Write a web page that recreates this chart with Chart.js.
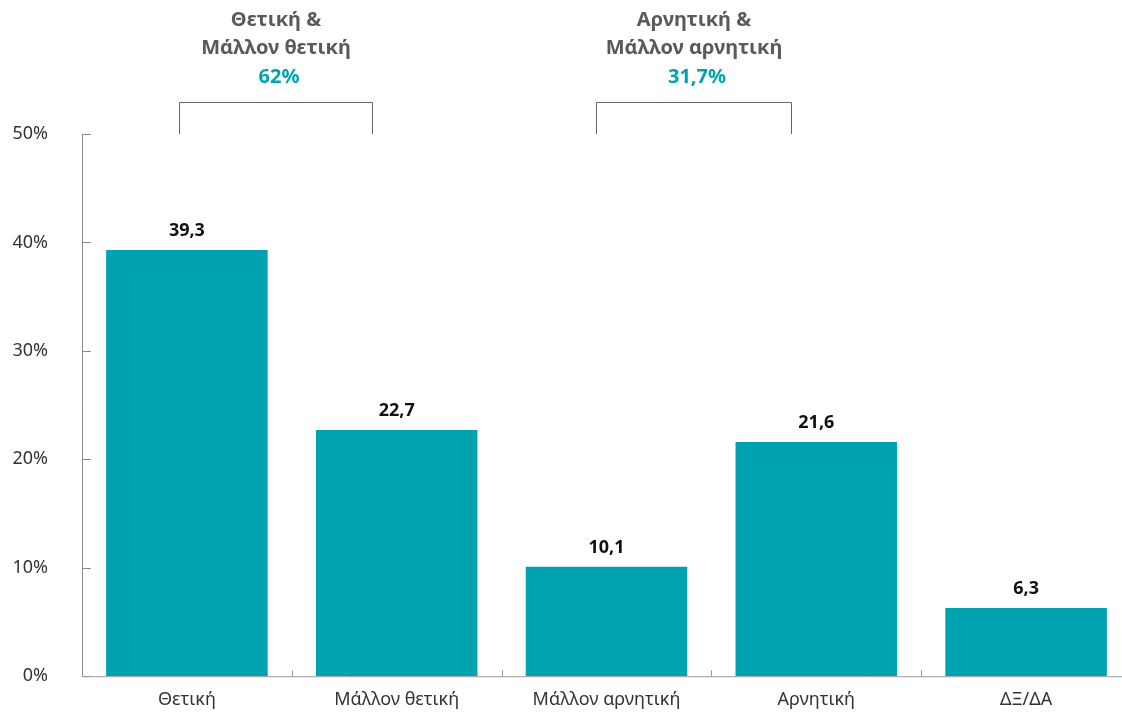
<!DOCTYPE html>
<html>
<head>
<meta charset="utf-8">
<script src="https://cdn.jsdelivr.net/npm/chart.js@4.4.0/dist/chart.umd.min.js"></script>
<style>
  html, body { margin: 0; padding: 0; background: #fff; overflow: hidden; }
  #wrap { width: 1132px; height: 721px; }
</style>
</head>
<body>
<div id="wrap"><canvas id="chart" width="1132" height="721"></canvas></div>
<script>
// chart data
const categories = ['Θετική', 'Μάλλον θετική', 'Μάλλον αρνητική', 'Αρνητική', 'ΔΞ/ΔΑ'];
const values = [39.3, 22.7, 10.1, 21.6, 6.3];
const yTicks = [0, 10, 20, 30, 40, 50];
const groupTitles = [['Θετική &', 'Μάλλον θετική'], ['Αρνητική &', 'Μάλλον αρνητική']];
const groupTotals = ['62%', '31,7%'];
const groupSpans = [[0, 1], [2, 3]];

const TEAL = '#00a3af';
const FONT = '"Noto Sans", "DejaVu Sans", sans-serif';

const fmt = v => v.toFixed(1).replace('.', ',');

// axes, inward ticks, value labels and bracket annotations
const decor = {
  id: 'decor',
  afterDraw(chart) {
    const ctx = chart.ctx;
    const area = chart.chartArea;
    const x = chart.scales.x, y = chart.scales.y;
    ctx.save();

    // y axis
    ctx.strokeStyle = '#8a8a8a';
    ctx.lineWidth = 1;
    ctx.beginPath();
    ctx.moveTo(area.left + 0.5, y.getPixelForValue(50));
    ctx.lineTo(area.left + 0.5, area.bottom);
    yTicks.forEach(t => {
      const py = Math.round(y.getPixelForValue(t)) + 0.5;
      ctx.moveTo(area.left, py);
      ctx.lineTo(area.left + 9, py);
    });
    ctx.stroke();

    // x axis
    ctx.strokeStyle = '#9a9a9a';
    ctx.beginPath();
    ctx.moveTo(area.left, area.bottom + 0.5);
    ctx.lineTo(chart.width, area.bottom + 0.5);
    const step = x.getPixelForValue(1) - x.getPixelForValue(0);
    for (let i = 1; i < categories.length; i++) {
      const px = Math.round(x.getPixelForValue(i) - step / 2) + 0.5;
      ctx.moveTo(px, area.bottom);
      ctx.lineTo(px, area.bottom - 6);
    }
    ctx.stroke();

    // value labels
    ctx.fillStyle = '#111';
    ctx.font = 'bold 18px ' + FONT;
    ctx.textAlign = 'center';
    ctx.textBaseline = 'middle';
    chart.getDatasetMeta(0).data.forEach((bar, i) => {
      ctx.fillText(fmt(values[i]), bar.x, bar.y - 19);
    });

    // brackets with titles
    groupSpans.forEach((span, g) => {
      const l = Math.round(x.getPixelForValue(span[0]) - step * (g === 0 ? 0.04 : 0.05)) + 0.5;
      const r = Math.round(x.getPixelForValue(span[1]) - step * 0.12) + 0.5;
      const top = 102.5, bot = y.getPixelForValue(50);
      ctx.strokeStyle = '#666';
      ctx.beginPath();
      ctx.moveTo(l, bot);
      ctx.lineTo(l, top);
      ctx.lineTo(r, top);
      ctx.lineTo(r, bot);
      ctx.stroke();
      const cx = (l + r) / 2;
      ctx.font = 'bold 20px ' + FONT;
      ctx.fillStyle = '#5a5a5a';
      ctx.fillText(groupTitles[g][0], cx, 20);
      ctx.fillText(groupTitles[g][1], cx, 48);
      ctx.fillStyle = TEAL;
      ctx.fillText(groupTotals[g], cx + 3, 77);
    });

    ctx.restore();
  }
};

new Chart(document.getElementById('chart'), {
  type: 'bar',
  data: {
    labels: categories,
    datasets: [{
      data: values,
      backgroundColor: TEAL,
      borderWidth: 0,
      categoryPercentage: 1,
      barPercentage: 0.77
    }]
  },
  options: {
    responsive: false,
    animation: false,
    layout: { padding: { top: 134, right: 1, left: 0, bottom: 0 } },
    plugins: { legend: { display: false }, tooltip: { enabled: false } },
    scales: {
      x: {
        grid: { display: false, drawTicks: false },
        border: { display: false },
        ticks: { color: '#333', font: { family: FONT, size: 18 }, padding: 13 },
        afterFit: s => { s.height = 37; }
      },
      y: {
        min: 0,
        max: 50,
        afterBuildTicks: s => { s.ticks = yTicks.map(v => ({ value: v })); },
        grid: { display: false, drawTicks: false },
        border: { display: false },
        ticks: {
          color: '#333',
          font: { family: FONT, size: 18 },
          padding: 34,
          callback: v => v + '%'
        },
        afterFit: s => { s.width = 82; }
      }
    }
  },
  plugins: [decor]
});
</script>
</body>
</html>
